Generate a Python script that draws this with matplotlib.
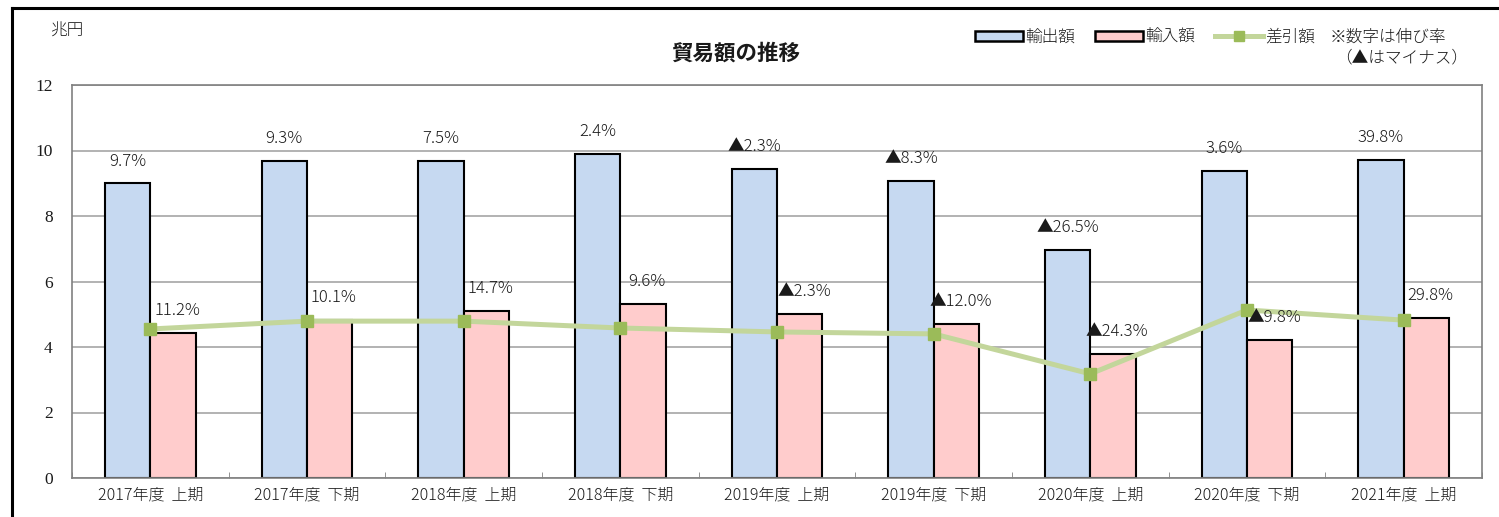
import matplotlib
matplotlib.use("Agg")
import matplotlib.pyplot as plt
from matplotlib.patches import Patch
from matplotlib.lines import Line2D
import numpy as np

plt.rcParams['font.family'] = ['Noto Sans CJK JP', 'DejaVu Sans']

categories = ["2017年度  上期", "2017年度  下期", "2018年度  上期", "2018年度  下期",
              "2019年度  上期", "2019年度  下期", "2020年度  上期", "2020年度  下期",
              "2021年度  上期"]
exports = [9.00, 9.68, 9.68, 9.89, 9.43, 9.07, 6.96, 9.37, 9.71]
imports = [4.43, 4.82, 5.10, 5.31, 5.01, 4.70, 3.79, 4.21, 4.89]
balance = [4.55, 4.79, 4.79, 4.58, 4.46, 4.40, 3.18, 5.13, 4.82]
export_growth = ["9.7%", "9.3%", "7.5%", "2.4%", "▲2.3%", "▲8.3%", "▲26.5%", "3.6%", "39.8%"]
import_growth = ["11.2%", "10.1%", "14.7%", "9.6%", "▲2.3%", "▲12.0%", "▲24.3%", "▲9.8%", "29.8%"]
yticks = [0, 2, 4, 6, 8, 10, 12]

W, H = 1499, 517
fig = plt.figure(figsize=(W / 100, H / 100), dpi=100)
ax = fig.add_axes([72 / W, 1 - 478 / H, (1482 - 72) / W, (478 - 85) / H])

TW = "light"
TC = "#1a1a1a"

x = np.arange(len(categories))
bw = 0.29
c_exp = "#C6D9F1"
c_imp = "#FFCCCC"
ax.bar(x - bw / 2, exports, bw, color=c_exp, edgecolor="black", linewidth=1.5, zorder=2)
ax.bar(x + bw / 2, imports, bw, color=c_imp, edgecolor="black", linewidth=1.5, zorder=2)
ax.plot(x, balance, color="#C3D69B", linewidth=3.6, marker="s", markersize=8,
        markerfacecolor="#9BBB59", markeredgecolor="#9BBB59", zorder=4)

for i in range(len(categories)):
    ax.annotate(export_growth[i], (x[i] - bw / 2, exports[i]), xytext=(0, 16),
                textcoords="offset points", ha="center", va="center",
                fontsize=12, fontweight=TW, color=TC, zorder=5)
    ax.annotate(import_growth[i], (x[i] + bw / 2, imports[i]), xytext=(3, 16),
                textcoords="offset points", ha="center", va="center",
                fontsize=12, fontweight=TW, color=TC, zorder=5)

ax.set_xlim(-0.5, len(categories) - 0.5)
ax.set_ylim(0, 12)
ax.set_yticks(yticks)
ax.set_yticklabels([str(v) for v in yticks], fontsize=12.5, color=TC,
                   family=['Liberation Serif', 'DejaVu Serif'])
ax.yaxis.grid(True, color="#A6A6A6", linewidth=1.2, zorder=0)
ax.set_axisbelow(True)
ax.tick_params(axis="y", length=0, pad=14)
ax.set_xticks(x)
ax.set_xticklabels(categories, fontsize=11.5, fontweight=TW, color=TC)
ax.set_xticks(np.arange(len(categories) + 1) - 0.5, minor=True)
ax.tick_params(axis="x", which="major", length=0, pad=6)
ax.tick_params(axis="x", which="minor", direction="in", length=4, color="#808080")
for s in ax.spines.values():
    s.set_color("#808080")
    s.set_linewidth(1.2)

fig.text(67 / W, 1 - 31 / H, "兆円", fontsize=12, fontweight=TW, color=TC, ha="center", va="center")
fig.text(736 / W, 1 - 53 / H, "貿易額の推移", fontsize=15.5, fontweight="bold", color=TC,
         ha="center", va="center")

handles = [Patch(facecolor=c_exp, edgecolor="black", linewidth=1.8),
           Patch(facecolor=c_imp, edgecolor="black", linewidth=1.8),
           Line2D([], [], color="#C3D69B", linewidth=3.6, marker="s", markersize=7,
                  markerfacecolor="#9BBB59", markeredgecolor="#9BBB59")]
leg = fig.legend(handles, ["輸出額", "輸入額", "差引額"], ncol=3, frameon=False,
                 loc="center left", bbox_to_anchor=(960 / W, 1 - 37 / H),
                 prop={"size": 12, "weight": TW},
                 handlelength=2.9, handleheight=0.55, handletextpad=0.1, columnspacing=1.2)
for t in leg.get_texts():
    t.set_color(TC)
fig.text(1330 / W, 1 - 37 / H, "※数字は伸び率", fontsize=12, fontweight=TW, color=TC,
         ha="left", va="center")
fig.text(1468 / W, 1 - 58 / H, "（▲はマイナス）", fontsize=12, fontweight=TW, color=TC,
         ha="right", va="center")

fig.add_artist(Line2D([12 / W, 12 / W], [0, 1 - 8 / H], color="black", linewidth=2.2,
                      transform=fig.transFigure))
fig.add_artist(Line2D([12 / W, 1], [1 - 8 / H, 1 - 8 / H], color="black", linewidth=2.2,
                      transform=fig.transFigure))

fig.savefig("out.png", dpi=100)
